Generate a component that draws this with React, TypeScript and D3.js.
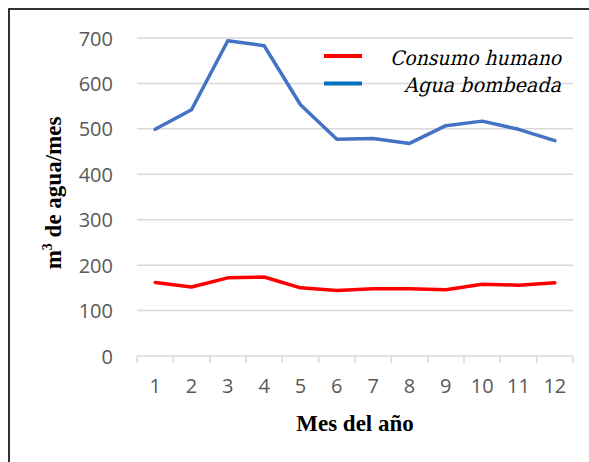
import React from "react";
import * as d3 from "d3";

// datos
const meses = ["1", "2", "3", "4", "5", "6", "7", "8", "9", "10", "11", "12"];
const consumoHumano = [162, 152, 172, 174, 150, 144, 148, 148, 146, 158, 156, 161];
const aguaBombeada = [499, 542, 694, 683, 553, 477, 479, 468, 507, 517, 499, 474];
const yTicks = [0, 100, 200, 300, 400, 500, 600, 700];
const series = [
  { name: "Consumo humano", values: consumoHumano, color: "#FF0000", legendColor: "#FF0000", w: 171 },
  { name: "Agua bombeada", values: aguaBombeada, color: "#4472C4", legendColor: "#0070C0", w: 157 },
];

const W = 589, H = 462;
const serif = "'Liberation Serif', 'Times New Roman', serif";

export default function App() {
  // area del grafico
  const x = d3.scaleBand().domain(meses).range([137, 573]);
  const y = d3.scaleLinear().domain([0, 700]).range([356, 38]);
  const cx = (m: string) => (x(m) as number) + x.bandwidth() / 2;

  const line = (vals: number[]) =>
    d3.line<number>().x((_, i) => cx(meses[i])).y((d) => y(d))(vals) as string;

  const tickXs = meses.map((m) => x(m) as number).concat([x.range()[1]]);

  return (
    <svg width={W} height={H} style={{ position: "absolute", left: 0, top: 0, background: "#fff" }}>
      {/* marco */}
      <rect x={9} y={9} width={620} height={500} fill="none" stroke="#000" strokeWidth={1.6} />

      {/* lineas de la cuadricula */}
      {yTicks.filter((t) => t > 0).map((t) => (
        <line key={t} x1={137} x2={573} y1={y(t)} y2={y(t)} stroke="#D9D9D9" strokeWidth={1.5} />
      ))}
      <line x1={137} x2={573} y1={y(0)} y2={y(0)} stroke="#D9D9D9" strokeWidth={1.5} />
      {tickXs.map((tx, i) => (
        <line key={i} x1={tx} x2={tx} y1={y(0)} y2={y(0) + 7} stroke="#D9D9D9" strokeWidth={1.5} />
      ))}

      {/* etiquetas de los ejes */}
      {yTicks.map((t) => (
        <text key={t} x={113} y={y(t)} textAnchor="end" dominantBaseline="central"
          fontFamily="'Open Sans', sans-serif" fontSize={20} fill="#595959">{t}</text>
      ))}
      {meses.map((m) => (
        <text key={m} x={cx(m)} y={393} textAnchor="middle"
          fontFamily="'Open Sans', sans-serif" fontSize={20} fill="#595959">{m}</text>
      ))}

      <text x={355} y={431} textAnchor="middle" fontFamily={serif}
        fontWeight="bold" fontSize={23} fill="#000">Mes del año</text>
      <text transform="translate(61,193) rotate(-90)" textAnchor="middle"
        fontFamily={serif} fontWeight="bold" fontSize={23} fill="#000">
        m<tspan dy={-9} fontSize={14}>3</tspan><tspan dy={9}> de agua/mes</tspan>
      </text>

      {/* series */}
      {series.map((s) => (
        <path key={s.name} d={line(s.values)} fill="none" stroke={s.color}
          strokeWidth={3.5} strokeLinejoin="round" strokeLinecap="round" />
      ))}

      {/* leyenda (cursiva simulada con skew) */}
      {series.map((s, i) => (
        <g key={s.name} transform={`translate(0,${56 + i * 27.5})`}>
          <line x1={324} x2={362} y1={0} y2={0} stroke={s.legendColor} strokeWidth={4} />
          <text transform="translate(561,8.5) skewX(-14)" textAnchor="end"
            fontFamily="'DejaVu Serif', serif" fontSize={20} fill="#000"
            textLength={s.w} lengthAdjust="spacingAndGlyphs">{s.name}</text>
        </g>
      ))}
    </svg>
  );
}
